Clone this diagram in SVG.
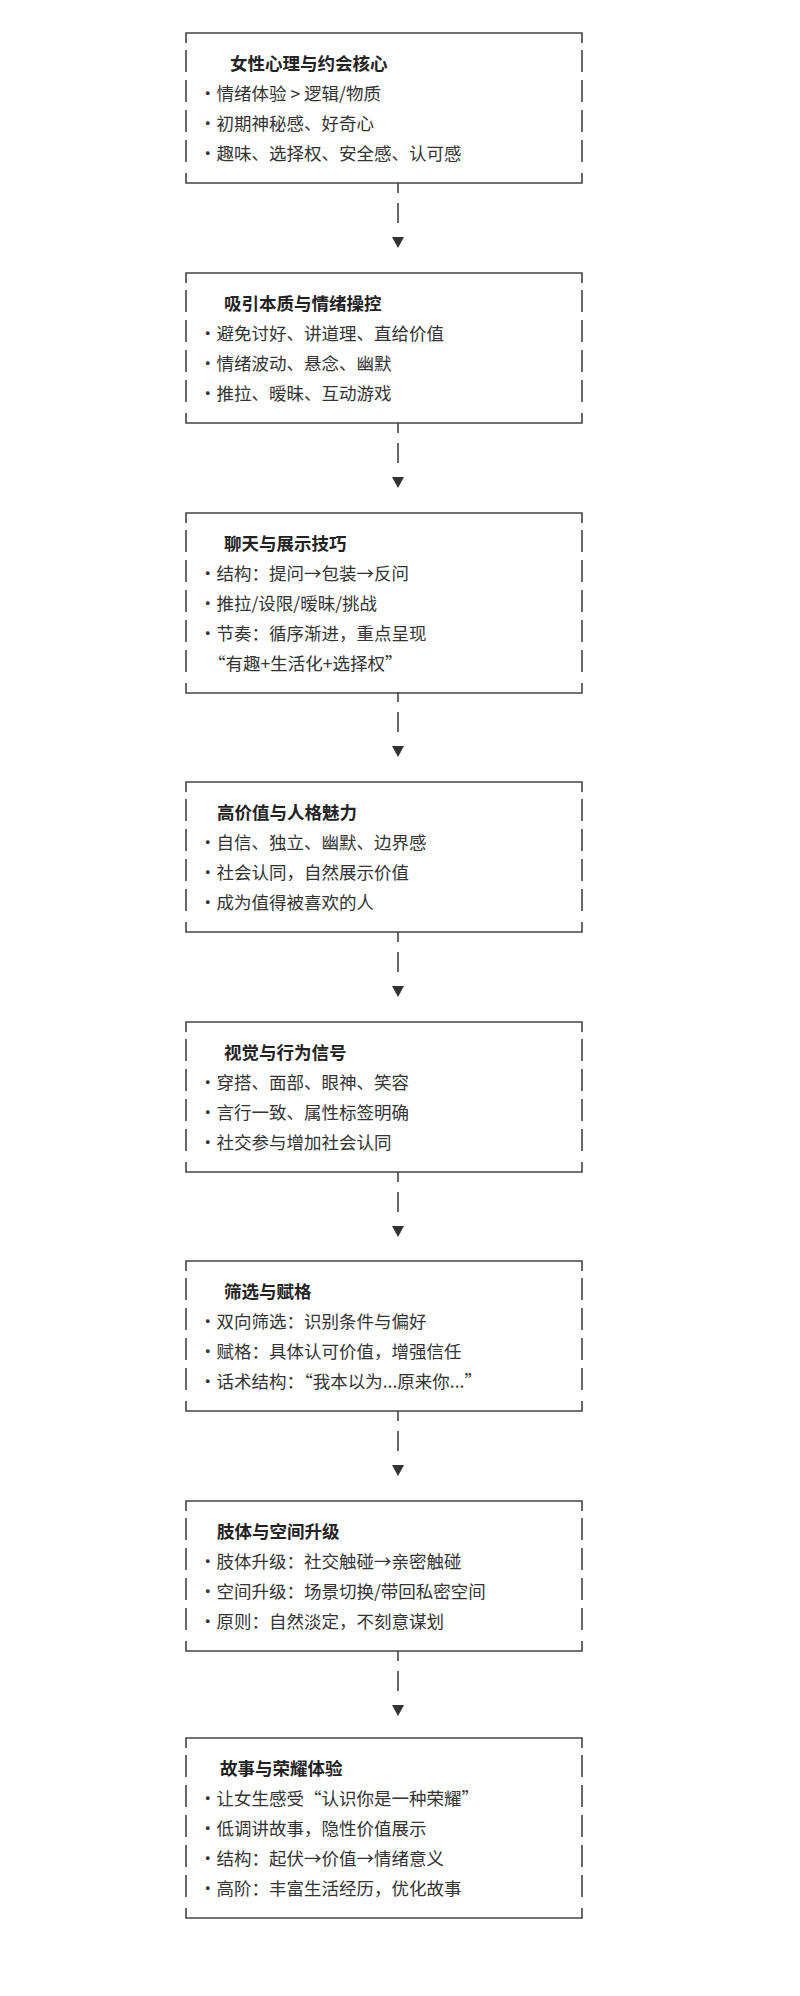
<svg xmlns="http://www.w3.org/2000/svg" width="800" height="1996" viewBox="0 0 800 1996">
<style>
.f{fill:none;stroke:#444;stroke-width:1.6}
.d{fill:none;stroke:#444;stroke-width:1.6;stroke-dasharray:22 8}
.t{font-family:"Noto Sans CJK SC","Liberation Sans",sans-serif;font-size:17.5px;fill:#333}
.h{font-weight:bold;fill:#222}
.c{fill:none;stroke:#444;stroke-width:1.6;stroke-dasharray:10 10 20 10}
.a{fill:#333}
</style>
<rect width="800" height="1996" fill="#fff"/>
<defs>
<g id="fr150"><path class="f" d="M186 43V33H582V43M186 173V183H582V173"/><path class="d" d="M186 50V170M582 50V170"/></g>
<g id="fr180"><path class="f" d="M186 43V33H582V43M186 203V213H582V203"/><path class="d" d="M186 50V200M582 50V200"/></g>
</defs>
<g id="connectors">
<path class="c" d="M398 183V228"/><path class="a" d="M392 237H404L398 248Z"/>
<path class="c" d="M398 423V468"/><path class="a" d="M392 477H404L398 488Z"/>
<path class="c" d="M398 692V737"/><path class="a" d="M392 746H404L398 757Z"/>
<path class="c" d="M398 932V977"/><path class="a" d="M392 986H404L398 997Z"/>
<path class="c" d="M398 1172V1217"/><path class="a" d="M392 1226H404L398 1237Z"/>
<path class="c" d="M398 1411V1456"/><path class="a" d="M392 1465H404L398 1476Z"/>
<path class="c" d="M398 1651V1696"/><path class="a" d="M392 1705H404L398 1716Z"/>
</g>
<g id="n1"><use href="#fr150"/>
<text class="t h" x="230" y="70">女性心理与约会核心</text>
<text class="t" x="199" y="100">•情绪体验 &gt; 逻辑/物质</text>
<text class="t" x="199" y="130">•初期神秘感、好奇心</text>
<text class="t" x="199" y="160">•趣味、选择权、安全感、认可感</text></g>
<g id="n2"><use href="#fr150" y="240"/>
<text class="t h" x="224" y="310">吸引本质与情绪操控</text>
<text class="t" x="199" y="340">•避免讨好、讲道理、直给价值</text>
<text class="t" x="199" y="370">•情绪波动、悬念、幽默</text>
<text class="t" x="199" y="400">•推拉、暧昧、互动游戏</text></g>
<g id="n3"><use href="#fr180" y="480"/>
<text class="t h" x="224" y="550">聊天与展示技巧</text>
<text class="t" x="199" y="580">•结构：提问→包装→反问</text>
<text class="t" x="199" y="610">•推拉/设限/暧昧/挑战</text>
<text class="t" x="199" y="640">•节奏：循序渐进，重点呈现</text>
<text class="t" x="208" y="670">“有趣+生活化+选择权”</text></g>
<g id="n4"><use href="#fr150" y="749"/>
<text class="t h" x="217" y="819">高价值与人格魅力</text>
<text class="t" x="199" y="849">•自信、独立、幽默、边界感</text>
<text class="t" x="199" y="879">•社会认同，自然展示价值</text>
<text class="t" x="199" y="909">•成为值得被喜欢的人</text></g>
<g id="n5"><use href="#fr150" y="989"/>
<text class="t h" x="224" y="1059">视觉与行为信号</text>
<text class="t" x="199" y="1089">•穿搭、面部、眼神、笑容</text>
<text class="t" x="199" y="1119">•言行一致、属性标签明确</text>
<text class="t" x="199" y="1149">•社交参与增加社会认同</text></g>
<g id="n6"><use href="#fr150" y="1228"/>
<text class="t h" x="224" y="1298">筛选与赋格</text>
<text class="t" x="199" y="1328">•双向筛选：识别条件与偏好</text>
<text class="t" x="199" y="1358">•赋格：具体认可价值，增强信任</text>
<text class="t" x="199" y="1388">•话术结构：“我本以为...原来你...”</text></g>
<g id="n7"><use href="#fr150" y="1468"/>
<text class="t h" x="217" y="1538">肢体与空间升级</text>
<text class="t" x="199" y="1568">•肢体升级：社交触碰→亲密触碰</text>
<text class="t" x="199" y="1598">•空间升级：场景切换/带回私密空间</text>
<text class="t" x="199" y="1628">•原则：自然淡定，不刻意谋划</text></g>
<g id="n8"><use href="#fr180" y="1705"/>
<text class="t h" x="220" y="1775">故事与荣耀体验</text>
<text class="t" x="199" y="1805">•让女生感受“认识你是一种荣耀”</text>
<text class="t" x="199" y="1835">•低调讲故事，隐性价值展示</text>
<text class="t" x="199" y="1865">•结构：起伏→价值→情绪意义</text>
<text class="t" x="199" y="1895">•高阶：丰富生活经历，优化故事</text></g>
</svg>
